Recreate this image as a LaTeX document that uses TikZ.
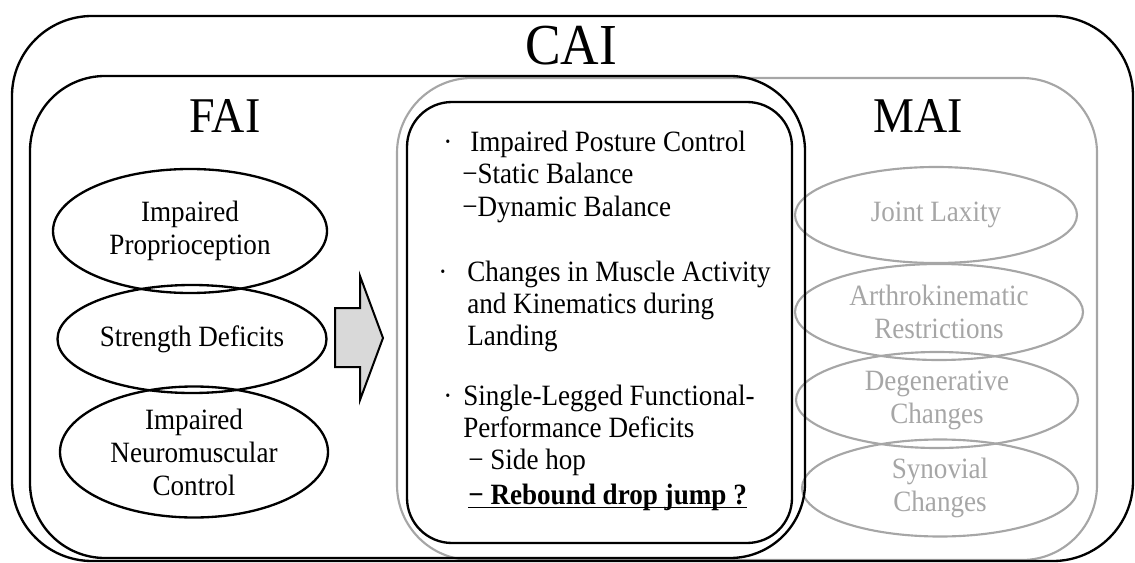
\documentclass[tikz,border=0pt]{standalone}
\usepackage{fontspec}
\setmainfont{Liberation Serif}[FakeStretch=0.92]
\usetikzlibrary{shapes.geometric}

\definecolor{maigray}{HTML}{A6A6A6}
\definecolor{arrowgray}{HTML}{D9D9D9}
\newcommand\pu{0.75pt}
\newcommand\bodyfont{\fontsize{22.1pt}{24.75pt}\selectfont}
\newcommand\bigfont{\fontsize{37.5pt}{40pt}\selectfont}

\begin{document}
\begin{tikzpicture}[x=0.75pt,y=-0.75pt,
  black line/.style={draw=black,line width=1.75pt},
  gray line/.style={draw=maigray,line width=1.6pt},
  fai ell/.style={ellipse,black line,inner sep=0pt,align=center,font=\bodyfont},
  mai ell/.style={ellipse,gray line,inner sep=0pt,align=center,font=\bodyfont,text=maigray},
  title/.style={anchor=base,inner sep=0pt,font=\bigfont},
  item/.style={anchor=base west,inner sep=0pt,font=\bodyfont}]

  \useasboundingbox (0,0) rectangle (1135,563);

  % MAI side (gray)
  \draw[gray line,rounded corners=75*\pu] (397,78) rectangle (1097,560);
  \node[title] (mai) at (918,133) {MAI};
  \node[mai ell,minimum width=282*\pu,minimum height=96*\pu] (laxity) at (936,215) {Joint Laxity};
  \node[mai ell,minimum width=288*\pu,minimum height=96*\pu] (arthro) at (939,312) {Arthrokinematic\\Restrictions};
  \node[mai ell,minimum width=282*\pu,minimum height=96*\pu] (degen) at (937,400) {Degenerative\\Changes};
  \node[mai ell,minimum width=276*\pu,minimum height=97*\pu] (synov) at (940,488) {Synovial\\Changes};

  % CAI and FAI boxes
  \draw[black line,rounded corners=80*\pu] (12,16) rectangle (1133,561);
  \node[title,font=\fontsize{43.5pt}{46pt}\selectfont] (cai) at (571,65) {CAI};
  \draw[black line,rounded corners=75*\pu] (30,76) rectangle (805,558);
  \node[title] (fai) at (225,133) {FAI};

  \node[fai ell,minimum width=274*\pu,minimum height=124*\pu] (proprio) at (190,231) {Impaired\\Proprioception};
  \node[fai ell,minimum width=269*\pu,minimum height=108*\pu] (strength) at (192,339) {Strength Deficits};
  \node[fai ell,minimum width=268*\pu,minimum height=131*\pu] (neuro) at (194,452) {Impaired\\Neuromuscular\\Control};

  % block arrow
  \draw[black line,line width=1.5pt,fill=arrowgray]
    (335,308) -- (360,308) -- (360,276) -- (383,338) -- (360,400) -- (360,367) -- (335,367) -- cycle;

  % deficits box
  \draw[black line,rounded corners=45*\pu] (407,102) rectangle (792,543);
  \foreach \nm/\xx/\yy in {b1/448/152,b4/443/281,b7/448/405}
    \node[anchor=base,inner sep=0pt,font=\bodyfont] (\nm) at (\xx,\yy) {·};
  \foreach \nm/\xx/\yy/\txt in {l1/470/152/Impaired Posture Control,
      l2/462/184/−Static Balance, l3/462/217/−Dynamic Balance,
      l4/467/281/Changes in Muscle Activity, l5/467/313/and Kinematics during,
      l6/467/345/Landing, l7/463/405/Single-Legged Functional-,
      l8/463/437/Performance Deficits, l9/468/469/− Side hop}
    \node[item] (\nm) at (\xx,\yy) {\txt};
  \node[item,font=\bodyfont\bfseries] (l10) at (468,504) {− Rebound drop jump ?};
  \draw[line width=1.3pt] ([yshift=-2.7pt]l10.base west) -- ([yshift=-2.7pt]l10.base east);
\end{tikzpicture}
\end{document}
